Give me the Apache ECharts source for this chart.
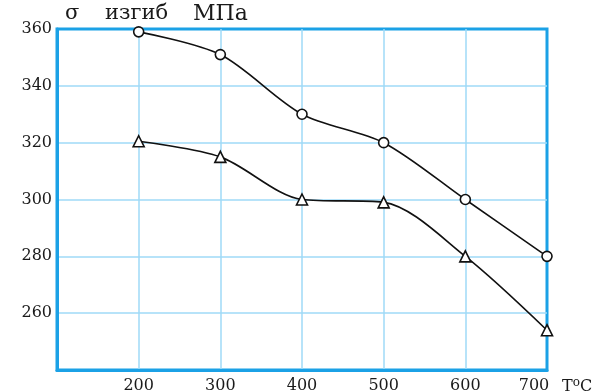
<!DOCTYPE html>
<html><head><meta charset="utf-8">
<script src="https://cdn.jsdelivr.net/npm/echarts@6/dist/echarts.min.js"></script>
<style>html,body{margin:0;padding:0;background:#fff}#c{width:600px;height:392px}</style>
</head><body><div id="c"></div>
<script>
var temperatures = [200, 300, 400, 500, 600, 700];
var circleSeries = [359, 351, 330, 320, 300, 280];
var triangleSeries = [320.5, 315, 300, 299, 280, 254];
var yTitleParts = ['σ', 'изгиб', 'МПа'];
var xTitle = 'T°C';

function pairs(vals){ return temperatures.map(function(t,i){ return [t, vals[i]]; }); }
var blue = '#1ba1e6', light = '#9fdaf7', font = 'DejaVu Serif', tc = '#1a1a1a';
var chart = echarts.init(document.getElementById('c'));
chart.setOption({
  animation: false,
  grid: {left: 57, right: 53, top: 29, bottom: 22, show: true, borderColor: blue, borderWidth: 3,
         containLabel: false, outerBoundsMode: 'none'},
  xAxis: {
    type: 'value', min: 100, max: 700, interval: 100,
    axisLine: {show: true, lineStyle: {color: blue, width: 3}},
    axisTick: {show: false},
    splitLine: {show: true, showMinLine: false, showMaxLine: false, lineStyle: {color: light, width: 1.5}},
    axisLabel: {
      color: tc, fontFamily: font, fontSize: 16, margin: 8,
      formatter: function(v){ if (v === 100) return ''; if (v === 700) return '{s|700}'; return String(v); },
      rich: {s: {fontFamily: font, fontSize: 16, color: tc, padding: [0, 26, 0, 0]}}
    },
    name: '{t|T}{o|o}{t|C}', nameLocation: 'end', nameGap: 15,
    nameTextStyle: {
      align: 'left', verticalAlign: 'top', padding: [7, 0, 0, 0],
      rich: {t: {fontFamily: font, fontSize: 16, color: tc}, o: {fontFamily: font, fontSize: 12, color: tc, padding: [0, 0, 8, 0]}}
    }
  },
  yAxis: {
    type: 'value', min: 240, max: 360, interval: 20,
    axisLine: {show: true, lineStyle: {color: blue, width: 3}},
    axisTick: {show: false},
    splitLine: {show: true, showMinLine: false, showMaxLine: false, lineStyle: {color: light, width: 1.5}},
    axisLabel: {color: tc, fontFamily: font, fontSize: 16, margin: 5,
      formatter: function(v){ return v === 240 ? '' : String(v); }},
    name: '{a|' + yTitleParts[0] + '}{b|' + yTitleParts[1] + '}{c|' + yTitleParts[2] + '}',
    nameLocation: 'end', nameGap: 4,
    nameTextStyle: {align: 'left', padding: [0, 0, 0, 8],
      rich: {
        a: {fontFamily: font, fontSize: 21, color: tc, width: 40, align: 'left'},
        b: {fontFamily: font, fontSize: 21, color: tc, width: 88, align: 'left'},
        c: {fontFamily: font, fontSize: 22, color: tc, align: 'left'}
      }}
  },
  series: [
    {type: 'line', data: pairs(circleSeries), smooth: 0.3, symbol: 'circle', symbolSize: 10,
     lineStyle: {color: '#111', width: 1.6}, itemStyle: {color: '#fff', borderColor: '#111', borderWidth: 1.6}, z: 5},
    {type: 'line', data: pairs(triangleSeries), smooth: 0.3, symbol: 'triangle', symbolSize: 11,
     lineStyle: {color: '#111', width: 1.6}, itemStyle: {color: '#fff', borderColor: '#111', borderWidth: 1.6}, z: 5}
  ]
});
</script></body></html>
